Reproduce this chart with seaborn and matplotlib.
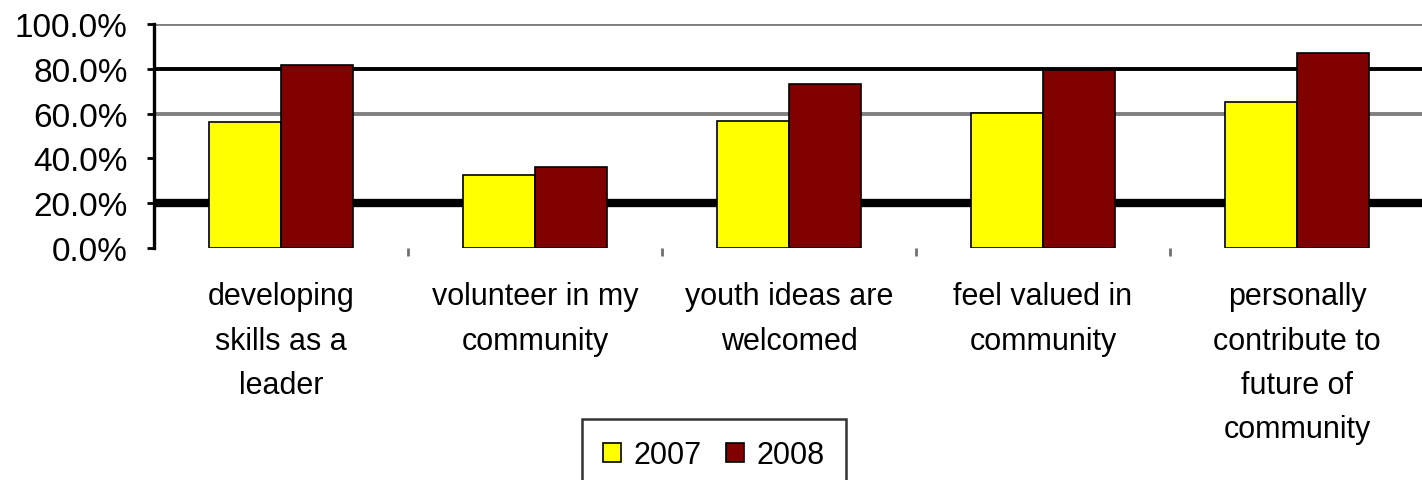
import matplotlib
matplotlib.use("Agg")
import matplotlib.pyplot as plt
import seaborn as sns
import pandas as pd
from matplotlib.ticker import FixedLocator, PercentFormatter

categories = [
    "developing\nskills as a\nleader",
    "volunteer in my\ncommunity",
    "youth ideas are\nwelcomed",
    "feel valued in\ncommunity",
    "personally\ncontribute to\nfuture of\ncommunity",
]
years = ["2007", "2008"]
values_2007 = [56.4, 32.7, 56.7, 60.3, 65.0]
values_2008 = [81.7, 36.0, 73.2, 79.6, 87.1]
y_ticks = [0, 20, 40, 60, 80, 100]

df = pd.DataFrame({
    "category": categories * 2,
    "year": [years[0]] * len(categories) + [years[1]] * len(categories),
    "value": values_2007 + values_2008,
})

sns.set_theme(style="white")
plt.rcParams["font.family"] = ["Liberation Sans", "DejaVu Sans"]
plt.rcParams["text.color"] = "black"
plt.rcParams["xtick.color"] = "black"
plt.rcParams["ytick.color"] = "black"
plt.rcParams["xtick.labelcolor"] = "black"
plt.rcParams["ytick.labelcolor"] = "black"

fig = plt.figure(figsize=(14.22, 4.81), dpi=100)
ax = fig.add_axes([154 / 1422, (481 - 249) / 481, 1270 / 1422, 224 / 481])

sns.barplot(data=df, x="category", y="value", hue="year",
            palette=["#FFFF00", "#800000"], width=0.57, gap=0,
            edgecolor="black", linewidth=1.2, saturation=1, ax=ax, zorder=3)

ax.set_ylim(0, 100)
ax.set_xlim(-0.5, len(categories) - 0.5)
ax.yaxis.set_major_locator(FixedLocator(y_ticks))
ax.yaxis.set_major_formatter(PercentFormatter(decimals=1))
ax.set_xlabel("")
ax.set_ylabel("")

# gridlines with individual styles, as in the reference
ax.set_axisbelow(True)
ax.yaxis.grid(True)
styles = {0: None, 20: ("black", 6.0), 40: None, 60: ("#808080", 2.8),
          80: ("black", 2.8), 100: ("#808080", 2.8)}
for tick_val, gl in zip(y_ticks, ax.get_ygridlines()):
    st = styles[tick_val]
    if st is None:
        gl.set_visible(False)
    else:
        gl.set_color(st[0])
        gl.set_linewidth(st[1])

for side in ["top", "right", "bottom"]:
    ax.spines[side].set_visible(False)
ax.spines["left"].set_color("black")
ax.spines["left"].set_linewidth(2.4)

ax.tick_params(axis="y", length=5, width=2, color="black", labelsize=24,
               labelcolor="black", pad=14, left=True)
ax.tick_params(axis="x", which="major", length=0, labelsize=22,
               labelcolor="black", pad=24)
ax.set_xticks([i + 0.5 for i in range(len(categories) - 1)], minor=True)
ax.tick_params(axis="x", which="minor", length=6, width=2, color="#707070",
               bottom=True)
for lab in ax.get_xticklabels():
    lab.set_linespacing(1.62)
    lab.set_ha("center")

handles, labels = ax.get_legend_handles_labels()
if ax.legend_ is not None:
    ax.legend_.remove()
leg = fig.legend(handles, labels, loc="upper center",
                 bbox_to_anchor=(0.502, 0.127), ncol=2, fontsize=22,
                 frameon=True, fancybox=False, handlelength=0.6,
                 handleheight=0.6, handletextpad=0.4, columnspacing=0.8,
                 borderpad=0.7, borderaxespad=0, labelcolor="black")
leg.get_frame().set_edgecolor("black")
leg.get_frame().set_linewidth(1.8)

fig.savefig("out.png", dpi=100)
